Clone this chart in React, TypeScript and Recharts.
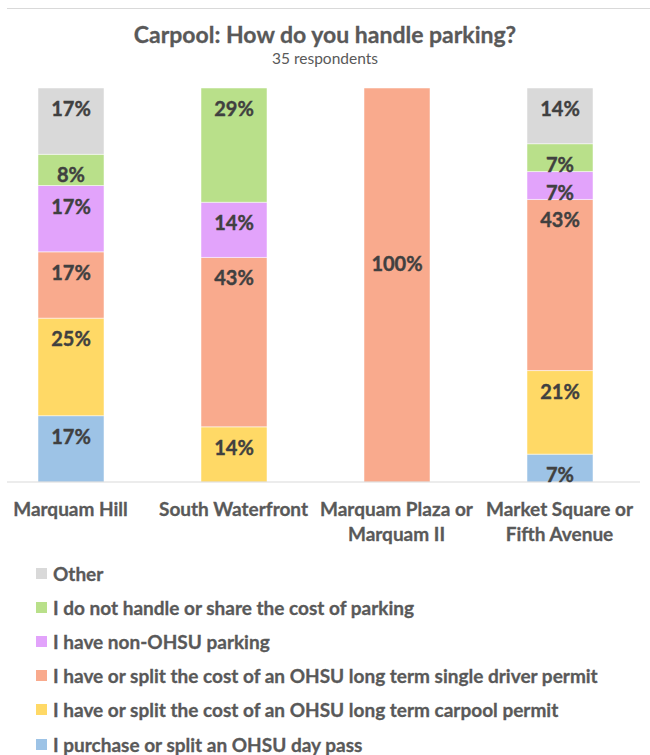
import React from 'react';
import { BarChart, Bar, XAxis, YAxis, Legend, LabelList } from 'recharts';

// sites along the x axis ("\n" = line break in the tick)
const sites = ['Marquam Hill', 'South Waterfront', 'Marquam Plaza or\nMarquam II', 'Market Square or\nFifth Avenue'];

// percent of respondents per site, as printed in the chart
const dayPass = [17, 0, 0, 7];
const carpoolPermit = [25, 14, 0, 21];
const singlePermit = [17, 43, 100, 43];
const nonOhsu = [17, 14, 0, 7];
const notHandle = [8, 29, 0, 7];
const other = [17, 0, 0, 14];

// stack order bottom -> top
const series = [
    { key: 'dayPass', name: 'I purchase or split an OHSU day pass', color: '#9dc3e6', values: dayPass },
    { key: 'carpoolPermit', name: 'I have or split the cost of an OHSU long term carpool permit', color: '#ffd966', values: carpoolPermit },
    { key: 'singlePermit', name: 'I have or split the cost of an OHSU long term single driver permit', color: '#f9aa8d', values: singlePermit },
    { key: 'nonOhsu', name: 'I have non-OHSU parking', color: '#e2a3fb', values: nonOhsu },
    { key: 'notHandle', name: 'I do not handle or share the cost of parking', color: '#b9e08a', values: notHandle },
    { key: 'other', name: 'Other', color: '#d9d9d9', values: other },
];

const data = sites.map((site, i) => {
    const row: Record<string, string | number> = { site };
    series.forEach(s => { row[s.key] = s.values[i]; });
    return row;
});

const FONT = 'Lato, "Open Sans", sans-serif';

const SegmentLabel = (props: any) => {
    const { x, y, width, height, value } = props;
    if (!value) return null;
    // labels sit near the top of each segment; the full bar gets it lower
    const cy = value >= 100 ? y + height * 0.445 : y + 20;
    return (
        <text x={x + width / 2} y={cy} textAnchor="middle" dominantBaseline="central"
            fill="#404040" stroke="#404040" strokeWidth={0.4} fontSize={20} fontWeight={700} fontFamily={FONT}>
            {value}%
        </text>
    );
};

const SiteTick = (props: any) => {
    const { x, y, payload } = props;
    const lines = String(payload.value).split('\n');
    return (
        <text x={x} y={y} textAnchor="middle" fill="#595959" stroke="#595959" strokeWidth={0.3}
            fontSize={19} fontWeight={700} fontFamily={FONT}>
            {lines.map((l, i) => (
                <tspan key={i} x={x} dy={i === 0 ? 34 : 25}>{l}</tspan>
            ))}
        </text>
    );
};

const LegendList = () => (
    <div style={{ height: 199, paddingLeft: 29, fontFamily: FONT }}>
        {[...series].reverse().map(s => (
            <div key={s.key} style={{ height: 34.2, display: 'flex', alignItems: 'center' }}>
                <span style={{ width: 11, height: 11, background: s.color, marginRight: 6, display: 'inline-block', flex: 'none' }} />
                <span style={{ color: '#595959', fontSize: 19, fontWeight: 700, whiteSpace: 'nowrap', WebkitTextStroke: '0.3px #595959' }}>{s.name}</span>
            </div>
        ))}
    </div>
);

export default function App() {
    return (
        <div style={{ position: 'relative', width: 650, height: 755, background: '#fff', overflow: 'hidden' }}>
            <style>{'body{margin:0}'}</style>
            <div style={{ position: 'absolute', top: 8, left: 7, right: 0, height: 1, background: '#d9d9d9' }} />
            <div style={{ position: 'absolute', top: 20, width: 650, textAlign: 'center', fontFamily: FONT, color: '#595959' }}>
                <div style={{ fontSize: 23, fontWeight: 700, lineHeight: '28px', WebkitTextStroke: '0.3px #595959' }}>Carpool: How do you handle parking?</div>
                <div style={{ fontSize: 15.5, lineHeight: '20px' }}>35 respondents</div>
            </div>
            <BarChart width={650} height={755} data={data} stackOffset="expand"
                margin={{ top: 88, right: 10, left: 7, bottom: 0 }}>
                <XAxis dataKey="site" tick={<SiteTick />} tickLine={false} tickSize={0} tickMargin={0}
                    height={74} interval={0} stroke="#d9d9d9" padding={{ left: -18, right: -1 }} />
                <YAxis hide domain={[0, 1]} />
                <Legend verticalAlign="bottom" content={<LegendList />} />
                {series.map(s => (
                    <Bar key={s.key} dataKey={s.key} name={s.name} stackId="a" fill={s.color}
                        barSize={66} isAnimationActive={false} stroke="#ffffff" strokeWidth={0.5}>
                        <LabelList dataKey={s.key} content={<SegmentLabel />} />
                    </Bar>
                ))}
            </BarChart>
        </div>
    );
}
